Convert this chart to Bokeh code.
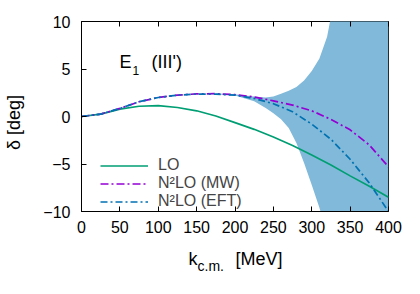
from bokeh.plotting import figure
from bokeh.layouts import row, column
from bokeh.models import Range1d, FixedTicker, LinearAxis, Label, Legend, LegendItem
from bokeh.embed import file_html
from bokeh.resources import INLINE

# ---- data ----
k = [0, 25, 50, 75, 100, 125, 150, 175, 200, 225, 250, 275, 300, 325, 350, 375, 400]
lo = [0, 0.25, 0.78, 1.08, 1.15, 0.95, 0.6, 0.05, -0.65, -1.35, -2.15, -3.05, -4.05, -5.1, -6.25, -7.35, -8.5]
n2lo_mw = [0, 0.25, 0.85, 1.55, 2.0, 2.25, 2.38, 2.4, 2.3, 2.05, 1.65, 1.2, 0.6, -0.3, -1.4, -3.0, -5.3]
n2lo_eft = [0, 0.25, 0.85, 1.55, 2.0, 2.25, 2.36, 2.35, 2.25, 1.9, 1.35, 0.5, -0.8, -2.4, -4.5, -7.0, -10.0]

band_k = [175, 200, 225, 240, 250, 260, 270, 280, 290, 300, 310, 320, 325, 330, 340, 400]
band_hi = [2.42, 2.35, 2.1, 2.0, 2.1, 2.4, 2.7, 3.1, 3.8, 4.8, 6.1, 8.4, 10.5, 13, 19, 80]
band_lo = [2.35, 2.2, 1.6, 0.9, 0.35, -0.3, -1.2, -2.8, -4.9, -7.2, -9.6, -12.5, -14, -16, -20, -80]

x_ticks = [0, 50, 100, 150, 200, 250, 300, 350, 400]
y_ticks = [-10, -5, 0, 5, 10]

FONT = "Liberation Sans"

p = figure(width=386, height=245, output_backend="svg", toolbar_location=None,
           x_range=Range1d(0, 400), y_range=Range1d(-10, 10),
           min_border_left=55, min_border_right=24, min_border_top=21, min_border_bottom=34)

p.background_fill_color = "white"
p.border_fill_color = "white"
p.outline_line_color = "black"
p.outline_line_width = 1
p.grid.visible = False

p.varea(x=band_k, y1=band_lo, y2=band_hi, fill_color="#80b9d9", fill_alpha=1.0)

r_lo = p.line(k, lo, line_color="#009e73", line_width=1.7)
r_mw = p.line(k, n2lo_mw, line_color="#9400d3", line_width=1.7, line_dash="8 3 2 3")
r_eft = p.line(k, n2lo_eft, line_color="#0072b2", line_width=1.7, line_dash="7 3 2 3")

for ax, ticks in ((p.xaxis[0], x_ticks), (p.yaxis[0], y_ticks)):
    ax.ticker = FixedTicker(ticks=ticks)
    ax.major_tick_in = 5
    ax.major_tick_out = 0
    ax.minor_tick_line_color = None
    ax.axis_line_color = "black"
    ax.major_tick_line_color = "black"
    ax.major_label_text_font = FONT
    ax.major_label_text_font_size = "16px"
    ax.major_label_text_color = "black"
p.xaxis[0].major_label_standoff = 9
p.yaxis[0].major_label_standoff = 11

top = LinearAxis(ticker=FixedTicker(ticks=x_ticks), major_tick_in=5, major_tick_out=0,
                 minor_tick_line_color=None, axis_line_color=None,
                 major_label_overrides={t: "" for t in x_ticks}, major_label_standoff=0)
p.add_layout(top, "above")

# panel title (screen units relative to the plot frame)
p.add_layout(Label(x=38, y=140, x_units="screen", y_units="screen", text="E",
                   text_font=FONT, text_font_size="18px", text_color="black"))
p.add_layout(Label(x=51, y=137, x_units="screen", y_units="screen", text="1",
                   text_font=FONT, text_font_size="12px", text_color="black"))
p.add_layout(Label(x=70, y=140, x_units="screen", y_units="screen", text="(III')",
                   text_font=FONT, text_font_size="18px", text_color="black"))

legend = Legend(items=[LegendItem(label="LO", renderers=[r_lo]),
                       LegendItem(label="N²LO (MW)", renderers=[r_mw]),
                       LegendItem(label="N²LO (EFT)", renderers=[r_eft])],
                location=(19, 1))
legend.background_fill_alpha = 0
legend.border_line_color = None
legend.padding = 0
legend.margin = 0
legend.spacing = 0
legend.glyph_width = 48
legend.glyph_height = 17
legend.label_height = 17
legend.label_standoff = 10
legend.label_text_font = FONT
legend.label_text_font_size = "16px"
p.add_layout(legend)


def text_strip(w, h):
    f = figure(width=w, height=h, output_backend="svg", toolbar_location=None,
               x_axis_type=None, y_axis_type=None, x_range=Range1d(0, 1), y_range=Range1d(0, 1),
               min_border_left=0, min_border_right=0, min_border_top=0, min_border_bottom=0)
    f.outline_line_color = None
    f.grid.visible = False
    f.background_fill_color = "white"
    f.border_fill_color = "white"
    return f


# y axis label strip
pl = text_strip(26, 290)
pl.add_layout(Label(x=13.5, y=168, x_units="screen", y_units="screen", text="δ [deg]",
                    angle=90, angle_units="deg", text_align="center", text_baseline="middle",
                    text_font=FONT, text_font_size="18px", text_color="black"))

# x axis label strip (its frame is aligned with the main plot's frame)
pb = text_strip(386, 45)
pb.add_layout(Label(x=107, y=22, x_units="screen", y_units="screen", text="k",
                    text_font=FONT, text_font_size="18px", text_color="black"))
pb.add_layout(Label(x=116, y=17, x_units="screen", y_units="screen", text="c.m.",
                    text_font=FONT, text_font_size="14px", text_color="black"))
pb.add_layout(Label(x=154, y=22, x_units="screen", y_units="screen", text="[MeV]",
                    text_font=FONT, text_font_size="18px", text_color="black"))

layout = row(pl, column(p, pb, spacing=0), spacing=0)

open("out.html", "w").write(file_html(layout, INLINE))
